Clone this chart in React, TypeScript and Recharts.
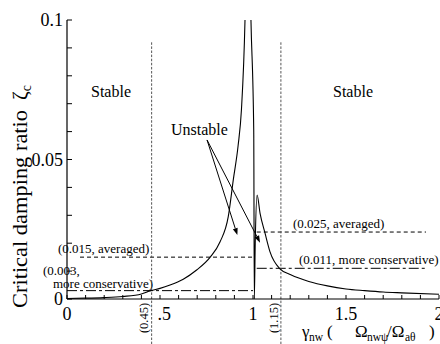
import React from 'react';
import {
  LineChart,
  Line,
  XAxis,
  YAxis,
  ReferenceLine,
  Customized
} from 'recharts';

// damping curve: gamma_nw vs critical damping ratio
const gammaValues = [
  0, 0.1, 0.2, 0.3, 0.4, 0.45, 0.5, 0.554, 0.625, 0.697, 0.769, 0.823, 0.867, 0.894,
  0.92, 0.938, 0.957, 0.973, 0.989, 1.004, 1.007, 1.012, 1.022, 1.038, 1.065, 1.091,
  1.145, 1.2, 1.25, 1.3, 1.4, 1.5, 1.6, 1.7, 1.8, 2.0
];
const zetaValues = [
  0.0002, 0.0003, 0.0005, 0.0009, 0.0018, 0.003, 0.0038, 0.005, 0.0071, 0.0104, 0.0149,
  0.0205, 0.0295, 0.0427, 0.055, 0.068, 0.1, 0.16, 0.1, 0.06, 0, 0.02, 0.0373, 0.0307,
  0.0235, 0.017, 0.0108, 0.0088, 0.0074, 0.0063, 0.0047, 0.0036, 0.003, 0.0025, 0.0022, 0.0017
];

const xTicks = [0, 0.1, 0.2, 0.3, 0.4, 0.5, 0.6, 0.7, 0.8, 0.9, 1, 1.1, 1.2, 1.3, 1.4, 1.5, 1.6, 1.7, 1.8, 1.9, 2];
const xTickLabels: Record<string, string> = { '0': '0', '0.5': '.5', '1': '1', '1.5': '1.5', '2': '2' };
const yTicks = [0, 0.01, 0.02, 0.03, 0.04, 0.05, 0.06, 0.07, 0.08, 0.09, 0.1];
const yTickLabels: Record<string, string> = { '0': '0', '0.05': '0.05', '0.1': '0.1' };

// threshold levels and bounds
const leftAveraged = 0.015;
const leftConservative = 0.003;
const rightAveraged = 0.024;
const rightConservative = 0.011;
const lowerBound = 0.455;
const upperBound = 1.15;

// arrows from the "Unstable" label
const arrowStart = { x: 0.753, y: 0.057 };
const arrowEnds = [
  { x: 0.916, y: 0.0229 },
  { x: 1.038, y: 0.0202 }
];

const data = gammaValues.map((g, i) => ({ g, z: zetaValues[i] }));

const SERIF = '"Liberation Serif", "Times New Roman", serif';

function XTick(props: any) {
  const { x, y, payload } = props;
  const label = xTickLabels[String(payload.value)];
  if (!label) return null;
  const shift = label === '.5' ? -2.5 : 0;
  return (
    <text
      x={x + shift}
      y={y + 25}
      textAnchor={label === '.5' ? 'start' : 'middle'}
      fontSize={18}
      fontFamily={SERIF}
      fill="#000"
    >
      {label}
    </text>
  );
}

function Arrow(props: any) {
  const { x1, y1, x2, y2 } = props;
  const dx = x2 - x1;
  const dy = y2 - y1;
  const len = Math.sqrt(dx * dx + dy * dy);
  const ux = dx / len;
  const uy = dy / len;
  const hl = 7;
  const hw = 2.5;
  const bx = x2 - ux * hl;
  const by = y2 - uy * hl;
  return (
    <g>
      <line x1={x1} y1={y1} x2={bx} y2={by} stroke="#000" strokeWidth={1} />
      <polygon
        points={`${x2},${y2} ${bx - uy * hw},${by + ux * hw} ${bx + uy * hw},${by - ux * hw}`}
        fill="#000"
      />
    </g>
  );
}

function Annotations() {
  return (
    <g fontFamily={SERIF} fill="#000">
      <text x={91} y={97} fontSize={16}>Stable</text>
      <text x={333} y={97} fontSize={16}>Stable</text>
      <text x={171} y={135} fontSize={16}>Unstable</text>
      <text x={58} y={253} fontSize={13}>(0.015, averaged)</text>
      <text x={43} y={274.5} fontSize={13}>(0.003,</text>
      <text x={53} y={288} fontSize={13}>more conservative)</text>
      <text x={293} y={228} fontSize={13}>(0.025, averaged)</text>
      <text x={299} y={264} fontSize={13}>(0.011, more conservative)</text>
      <text transform="translate(148,318) rotate(-90)" textAnchor="middle" fontSize={12.5}>(0.45)</text>
      <text transform="translate(278,318) rotate(-90)" textAnchor="middle" fontSize={12.5}>(1.15)</text>
      <text transform="translate(27,308) rotate(-90)" fontSize={21}>
        <tspan textLength={198} lengthAdjust="spacingAndGlyphs">Critical damping ratio</tspan>
        <tspan dx={10}>ζ</tspan>
        <tspan fontSize={14} dy={4}>c</tspan>
      </text>
      <text y={337} fontSize={17}>
        <tspan x={302}>γ</tspan>
        <tspan x={309} dy={4} fontSize={11.5}>nw</tspan>
        <tspan x={327} dy={-4}>(</tspan>
        <tspan x={355}>Ω</tspan>
        <tspan x={367} dy={4} fontSize={11.5}>nwψ</tspan>
        <tspan x={387} dy={-4}>/Ω</tspan>
        <tspan x={405} dy={4} fontSize={11.5}>aθ</tspan>
        <tspan x={429} dy={-4}>)</tspan>
      </text>
    </g>
  );
}

export default function App() {
  return (
    <div style={{ position: 'absolute', left: 0, top: 0, width: 440, height: 344, background: '#fff' }}>
      <LineChart
        width={440}
        height={344}
        data={data}
        margin={{ top: 20, right: 1, bottom: 0, left: 0 }}
      >
        <XAxis
          dataKey="g"
          type="number"
          domain={[0, 2]}
          ticks={xTicks}
          interval={0}
          allowDataOverflow
          height={45}
          tickSize={-4}
          tickMargin={0}
          tick={<XTick />}
          axisLine={{ stroke: '#000', strokeWidth: 1.2 }}
          tickLine={{ stroke: '#000' }}
        />
        <XAxis
          xAxisId="top"
          orientation="top"
          type="number"
          domain={[0, 2]}
          height={0}
          tick={false}
          tickLine={false}
          axisLine={{ stroke: '#000', strokeWidth: 1.2 }}
        />
        <YAxis
          type="number"
          domain={[0, 0.1]}
          ticks={yTicks}
          interval={0}
          allowDataOverflow
          width={67}
          tickSize={-5}
          tickMargin={9}
          tickFormatter={(v: number) => yTickLabels[String(v)] ?? ''}
          tick={{ fill: '#000', fontSize: 18, fontFamily: SERIF }}
          axisLine={{ stroke: '#000', strokeWidth: 1.2 }}
          tickLine={{ stroke: '#000' }}
        />
        <YAxis
          yAxisId="right"
          orientation="right"
          type="number"
          domain={[0, 0.1]}
          width={0}
          tick={false}
          tickLine={false}
          axisLine={{ stroke: '#000', strokeWidth: 1.2 }}
        />
        <ReferenceLine
          segment={[{ x: 0.07, y: leftAveraged }, { x: 1.0, y: leftAveraged }]}
          stroke="#000"
          strokeDasharray="4 3"
        />
        <ReferenceLine
          segment={[{ x: 0, y: leftConservative }, { x: 1.0, y: leftConservative }]}
          stroke="#000"
          strokeDasharray="10 3 3 3"
        />
        <ReferenceLine
          segment={[{ x: 1.02, y: rightAveraged }, { x: 1.93, y: rightAveraged }]}
          stroke="#000"
          strokeDasharray="4 3"
        />
        <ReferenceLine
          segment={[{ x: 1.02, y: rightConservative }, { x: 1.93, y: rightConservative }]}
          stroke="#000"
          strokeDasharray="10 3 3 3"
        />
        <ReferenceLine
          segment={[{ x: lowerBound, y: 0.092 }, { x: lowerBound, y: -0.0162 }]}
          ifOverflow="visible"
          stroke="#555"
          strokeDasharray="2.5 1.6"
        />
        <ReferenceLine
          segment={[{ x: upperBound, y: 0.092 }, { x: upperBound, y: -0.0162 }]}
          ifOverflow="visible"
          stroke="#555"
          strokeDasharray="2.5 1.6"
        />
        {arrowEnds.map((end, i) => (
          <ReferenceLine
            key={i}
            segment={[arrowStart, end]}
            ifOverflow="visible"
            shape={(p: any) => <Arrow {...p} />}
          />
        ))}
        <Line
          type="monotone"
          dataKey="z"
          stroke="#000"
          strokeWidth={1.1}
          dot={false}
          isAnimationActive={false}
        />
        <Customized component={Annotations} />
      </LineChart>
    </div>
  );
}
